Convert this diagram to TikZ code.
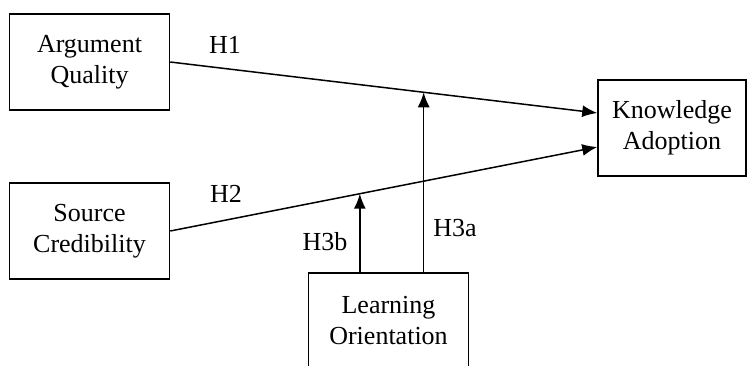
\documentclass[tikz,border=0pt]{standalone}
\usepackage{fontspec}
\setmainfont{Liberation Serif}
\usepackage{tikz}
\usetikzlibrary{arrows.meta}

\tikzset{
	varbox/.style={draw,line width=1.5pt,minimum width=160pt,minimum height=96pt,align=center,inner sep=0pt},
	hyp/.style={line width=1.5pt,-{Latex[length=15pt,width=12pt]}},
	hlabel/.style={inner sep=0pt}
}

\begin{document}
\begin{tikzpicture}[x=1pt,y=-1pt,font=\fontsize{26}{31}\selectfont]
	\useasboundingbox (0,0) rectangle (747,365);

	\node[varbox] (aq) at (89.5,62) {Argument\\Quality};
	\node[varbox] (sc) at (89.5,231) {Source\\Credibility};
	\node[varbox,minimum width=148pt] (ka) at (672,128) {Knowledge\\Adoption};
	\node[varbox] (lo) at (388.5,321) {Learning\\Orientation};

	\draw[hyp] (aq.east) -- ([yshift=15pt]ka.west) coordinate[pos=0.5935] (m1);
	\draw[hyp] (sc.east) -- ([yshift=-19pt]ka.west) coordinate[pos=0.444] (m2);
	\draw[hyp] (lo.north -| m1) -- (m1);
	\draw[hyp] (lo.north -| m2) -- (m2);

	\node[hlabel] (h1) at (225,45) {H1};
	\node[hlabel] (h2) at (226,194) {H2};
	\node[hlabel] (h3a) at (455,228) {H3a};
	\node[hlabel] (h3b) at (325,242) {H3b};
\end{tikzpicture}
\end{document}
